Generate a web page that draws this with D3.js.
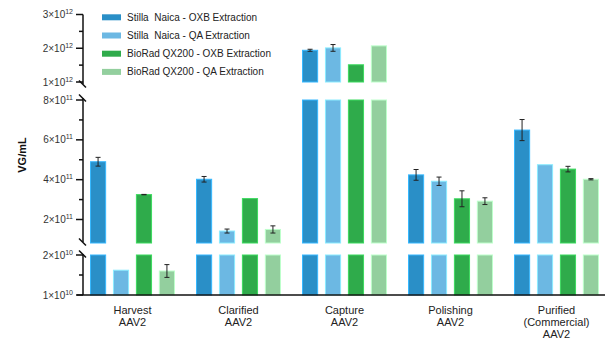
<!DOCTYPE html>
<html>
<head>
<meta charset="utf-8">
<script src="https://cdn.jsdelivr.net/npm/d3@7"></script>
<style>
  html, body { margin: 0; padding: 0; background: #fff; }
  svg { display: block; font-family: "Liberation Sans", Arial, sans-serif; }
  .legend-label { white-space: pre; }
</style>
</head>
<body>
<svg id="chart" width="607" height="343"></svg>
<script>
// Process steps (x categories), each label split into lines
const categories = ["Harvest", "Clarified", "Capture", "Polishing", "Purified"];
const categoryLabels = [["Harvest", "AAV2"], ["Clarified", "AAV2"], ["Capture", "AAV2"], ["Polishing", "AAV2"], ["Purified", "(Commercial)", "AAV2"]];

// Series (platform + extraction method)
const seriesNames = ["Stilla  Naica - OXB Extraction", "Stilla  Naica - QA Extraction", "BioRad QX200 - OXB Extraction", "BioRad QX200 - QA Extraction"];
const seriesColors = ["#2a8fc7", "#6cb8e3", "#2fab4b", "#93cf9e"];

// Titres in VG/mL, one array per series (order follows categories)
const stillaOXB = [4.9e11, 4.02e11, 1.94e12, 4.24e11, 6.49e11];
const stillaQA  = [1.62e10, 1.42e11, 2.01e12, 3.92e11, 4.75e11];
const biorafOXB = [3.25e11, 3.05e11, 1.51e12, 3.04e11, 4.53e11];
const biorafQA  = [1.6e10, 1.5e11, 2.07e12, 2.92e11, 4.02e11];

// Error (± SD), 0 = no bar drawn
const stillaOXBErr = [0.22e11, 0.14e11, 0.03e12, 0.27e11, 0.53e11];
const stillaQAErr  = [0, 0.1e11, 0.1e12, 0.21e11, 0];
const biorafOXBErr = [0.01e11, 0, 0, 0.4e11, 0.14e11];
const biorafQAErr  = [0.16e10, 0.18e11, 0, 0.17e11, 0.03e11];

// Broken y axis: three linear pieces
const segDomains = [[1e10, 2e10], [0.82e11, 8e11], [1e12, 3e12]];
const segMajorTicks = [[1e10, 2e10], [2e11, 4e11, 6e11, 8e11], [1e12, 2e12, 3e12]];
const segMinorTicks = [[1.5e10], [3e11, 5e11, 7e11], [1.5e12, 2.5e12]];

const yLabel = "VG/mL";

// ---------------------------------------------------------------
const svg = d3.select("#chart");
const axisX = 83;
const baseY = 295;
const segRanges = [[baseY, 255], [243, 100], [82, 14.5]];
const yScales = segDomains.map((d, i) => d3.scaleLinear().domain(d).range(segRanges[i]));

const values = [stillaOXB, stillaQA, biorafOXB, biorafQA];
const errors = [stillaOXBErr, stillaQAErr, biorafOXBErr, biorafQAErr];

const x0 = d3.scaleBand().domain(categories).range([79.5, 609.5]).padding(0);
const x1 = d3.scaleBand().domain(d3.range(4)).range([-42, 42]).paddingInner(0.34).paddingOuter(0);

const rows = [];
categories.forEach((c, ci) => {
  values.forEach((arr, si) => rows.push({ c, si, v: arr[ci], e: errors[si][ci] }));
});

// Bars, clipped to each axis piece
yScales.forEach((ys, k) => {
  const [dmin, dmax] = segDomains[k];
  const g = svg.append("g");
  g.selectAll("rect").data(rows.filter(r => r.v > dmin)).join("rect")
    .attr("x", r => x0(r.c) + x0.bandwidth() / 2 + x1(r.si))
    .attr("width", x1.bandwidth())
    .attr("y", r => ys(Math.min(r.v, dmax)))
    .attr("height", r => ys(dmin) - ys(Math.min(r.v, dmax)))
    .attr("fill", r => seriesColors[r.si])
    .attr("stroke", r => d3.color(seriesColors[r.si]).brighter(0.7))
    .attr("stroke-width", 1);

  // Error bars for values that fall inside this piece
  const eg = svg.append("g").attr("stroke", "#222").attr("stroke-width", 1);
  rows.filter(r => r.e > 0 && r.v >= dmin && r.v <= dmax).forEach(r => {
    const cx = x0(r.c) + x0.bandwidth() / 2 + x1(r.si) + x1.bandwidth() / 2;
    const y1 = ys(r.v + r.e), y2 = ys(r.v - r.e);
    eg.append("line").attr("x1", cx).attr("x2", cx).attr("y1", y1).attr("y2", y2);
    eg.append("line").attr("x1", cx - 2.5).attr("x2", cx + 2.5).attr("y1", y1).attr("y2", y1);
    eg.append("line").attr("x1", cx - 2.5).attr("x2", cx + 2.5).attr("y1", y2).attr("y2", y2);
  });
});

// Y axis pieces with tick marks and power-of-ten labels
const axisG = svg.append("g").attr("stroke", "#111").attr("stroke-width", 1.5).attr("fill", "none");
const segLineEnds = [[baseY, 254], [242, 98], [84, 14.5]];
segLineEnds.forEach(([a, b]) => {
  axisG.append("line").attr("x1", axisX).attr("x2", axisX).attr("y1", a).attr("y2", b);
});
// break marks
const breakYs = [[254], [242, 98], [84]];
breakYs.flat().forEach(y => {
  axisG.append("line").attr("x1", axisX - 4).attr("y1", y - 3.5).attr("x2", axisX + 3).attr("y2", y + 3.5);
});

function expParts(v) {
  const e = Math.floor(Math.log10(v) + 1e-9);
  const m = Math.round(v / Math.pow(10, e));
  return [m, e];
}

yScales.forEach((ys, k) => {
  segMajorTicks[k].forEach(t => {
    const y = ys(t);
    axisG.append("line").attr("x1", axisX - 7).attr("x2", axisX).attr("y1", y).attr("y2", y);
    const [m, e] = expParts(t);
    const txt = svg.append("text")
      .attr("x", axisX - 10).attr("y", y + 3.5)
      .attr("text-anchor", "end").attr("font-size", 10).attr("fill", "#333");
    txt.append("tspan").text(m + "×10");
    txt.append("tspan").attr("font-size", 7).attr("dy", -4).text(e);
  });
  segMinorTicks[k].forEach(t => {
    const y = ys(t);
    axisG.append("line").attr("x1", axisX - 4).attr("x2", axisX).attr("y1", y).attr("y2", y);
  });
});

// X axis baseline
svg.append("line").attr("x1", 77).attr("x2", 605).attr("y1", baseY).attr("y2", baseY)
  .attr("stroke", "#111").attr("stroke-width", 1.5);

// Category labels
categories.forEach((c, i) => {
  const t = svg.append("text")
    .attr("x", x0(c) + x0.bandwidth() / 2).attr("y", 314)
    .attr("text-anchor", "middle").attr("font-size", 11).attr("fill", "#222");
  categoryLabels[i].forEach((line, j) => {
    t.append("tspan").attr("x", x0(c) + x0.bandwidth() / 2).attr("dy", j === 0 ? 0 : 12).text(line);
  });
});

// Y axis title
svg.append("text")
  .attr("transform", "translate(26,155) rotate(-90)")
  .attr("text-anchor", "middle").attr("font-size", 11).attr("font-weight", "bold").attr("fill", "#111")
  .text(yLabel);

// Legend
const legend = svg.append("g");
seriesNames.forEach((name, i) => {
  const ly = 17.3 + i * 18.2;
  legend.append("rect").attr("x", 102).attr("y", ly - 3).attr("width", 19).attr("height", 6)
    .attr("fill", seriesColors[i]);
  legend.append("text").attr("class", "legend-label")
    .attr("x", 127).attr("y", ly + 3.5).attr("font-size", 10).attr("fill", "#222")
    .text(name);
});
</script>
</body>
</html>
